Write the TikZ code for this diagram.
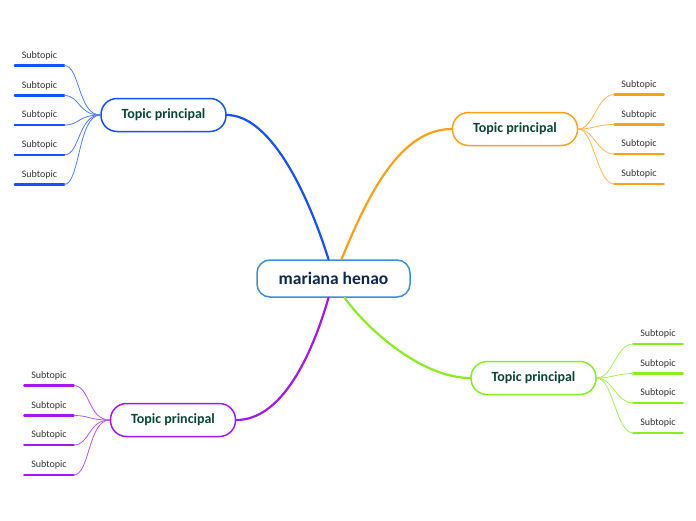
\documentclass[tikz,border=0pt]{standalone}
\usepackage{fontspec}
\setsansfont{Carlito}
\usetikzlibrary{calc}
\definecolor{azul}{HTML}{1650FF}
\definecolor{naranja}{HTML}{FFA014}
\definecolor{verde}{HTML}{88EE1C}
\definecolor{violeta}{HTML}{A118F2}
\definecolor{celeste}{HTML}{3C8ED6}
\definecolor{marino}{HTML}{10284E}
\definecolor{pino}{HTML}{0B4535}
\definecolor{gris}{HTML}{333333}

\tikzset{
  central/.style={draw=celeste, line width=1.5pt, rounded corners=13pt, fill=white,
    minimum width=153pt, minimum height=37pt, text=marino, font=\sffamily\bfseries\fontsize{17.5}{20}\selectfont},
  tema/.style={draw=#1, line width=1.5pt, rounded corners=16pt, fill=white,
    minimum width=125pt, minimum height=33pt, text=pino, font=\sffamily\bfseries\fontsize{14}{16}\selectfont},
  subtema/.style={anchor=south, minimum width=49pt, inner xsep=0pt, inner ysep=4.5pt,
    text height=6.5pt, text depth=2.5pt, text=gris, font=\sffamily\fontsize{10}{12}\selectfont},
  rama/.style={#1, line width=2.2pt},
  ramita/.style={#1!75, line width=0.8pt},
  raya/.style={#1, line width=2.5pt}
}

\begin{document}
\begin{tikzpicture}[x=1pt, y=-1pt, line cap=round, line join=round, font=\sffamily]
  \fill[white] (0,0) rectangle (696,520);

  % nodo central y temas
  \node[central] (c) at (333.5,278.5) {mariana henao};
  \node[tema=azul] (t1) at (163.5,115) {Topic principal};
  \node[tema=naranja] (t2) at (515,129) {Topic principal};
  \node[tema=verde] (t3) at (533.5,378) {Topic principal};
  \node[tema=violeta] (t4) at (173,420) {Topic principal};

  % ramas principales
  \draw[rama=azul] ([xshift=-5pt]c.north) .. controls (305,185) and (268,115) .. (t1.east);
  \draw[rama=naranja] ([xshift=8pt]c.north) .. controls (368,195) and (400,129) .. (t2.west);
  \draw[rama=verde] ([xshift=11pt]c.south) .. controls (372,335) and (425,378) .. (t3.west);
  \draw[rama=violeta] ([xshift=-5pt]c.south) .. controls (312,355) and (282,420) .. (t4.east);

  % subtemas azules
  \node[subtema] (a1) at (39.5,65.5) {Subtopic};
  \node[subtema] (a2) at (39.5,95.5) {Subtopic};
  \node[subtema] (a3) at (39.5,125) {Subtopic};
  \node[subtema] (a4) at (39.5,155) {Subtopic};
  \node[subtema] (a5) at (39.5,184.5) {Subtopic};
  \draw[raya=azul] (a1.south west) -- (a1.south east);
  \draw[raya=azul] (a2.south west) -- (a2.south east);
  \draw[raya=azul] (a3.south west) -- (a3.south east);
  \draw[raya=azul] (a4.south west) -- (a4.south east);
  \draw[raya=azul] (a5.south west) -- (a5.south east);
  \draw[ramita=azul] (a1.south east) .. controls (80,65.5) and (78,115) .. (t1.west);
  \draw[ramita=azul] (a2.south east) .. controls (80,95.5) and (78,115) .. (t1.west);
  \draw[ramita=azul] (a3.south east) .. controls (80,125) and (78,115) .. (t1.west);
  \draw[ramita=azul] (a4.south east) .. controls (80,155) and (78,115) .. (t1.west);
  \draw[ramita=azul] (a5.south east) .. controls (80,184.5) and (78,115) .. (t1.west);

  % subtemas naranjas
  \node[subtema] (b1) at (639,94.5) {Subtopic};
  \node[subtema] (b2) at (639,124.5) {Subtopic};
  \node[subtema] (b3) at (639,154) {Subtopic};
  \node[subtema] (b4) at (639,184) {Subtopic};
  \draw[raya=naranja] (b1.south west) -- (b1.south east);
  \draw[raya=naranja] (b2.south west) -- (b2.south east);
  \draw[raya=naranja] (b3.south west) -- (b3.south east);
  \draw[raya=naranja] (b4.south west) -- (b4.south east);
  \draw[ramita=naranja] (t2.east) .. controls (594,129) and (597,94.5) .. (b1.south west);
  \draw[ramita=naranja] (t2.east) .. controls (594,129) and (597,124.5) .. (b2.south west);
  \draw[ramita=naranja] (t2.east) .. controls (594,129) and (597,154) .. (b3.south west);
  \draw[ramita=naranja] (t2.east) .. controls (594,129) and (597,184) .. (b4.south west);

  % subtemas verdes
  \node[subtema] (v1) at (658,344) {Subtopic};
  \node[subtema] (v2) at (658,373.5) {Subtopic};
  \node[subtema] (v3) at (658,403) {Subtopic};
  \node[subtema] (v4) at (658,433) {Subtopic};
  \draw[raya=verde] (v1.south west) -- (v1.south east);
  \draw[raya=verde] (v2.south west) -- (v2.south east);
  \draw[raya=verde] (v3.south west) -- (v3.south east);
  \draw[raya=verde] (v4.south west) -- (v4.south east);
  \draw[ramita=verde] (t3.east) .. controls (613,378) and (616,344) .. (v1.south west);
  \draw[ramita=verde] (t3.east) .. controls (613,378) and (616,373.5) .. (v2.south west);
  \draw[ramita=verde] (t3.east) .. controls (613,378) and (616,403) .. (v3.south west);
  \draw[ramita=verde] (t3.east) .. controls (613,378) and (616,433) .. (v4.south west);

  % subtemas violetas
  \node[subtema] (p1) at (49,385.5) {Subtopic};
  \node[subtema] (p2) at (49,415.5) {Subtopic};
  \node[subtema] (p3) at (49,445) {Subtopic};
  \node[subtema] (p4) at (49,475) {Subtopic};
  \draw[raya=violeta] (p1.south west) -- (p1.south east);
  \draw[raya=violeta] (p2.south west) -- (p2.south east);
  \draw[raya=violeta] (p3.south west) -- (p3.south east);
  \draw[raya=violeta] (p4.south west) -- (p4.south east);
  \draw[ramita=violeta] (p1.south east) .. controls (90,385.5) and (88,420) .. (t4.west);
  \draw[ramita=violeta] (p2.south east) .. controls (90,415.5) and (88,420) .. (t4.west);
  \draw[ramita=violeta] (p3.south east) .. controls (90,445) and (88,420) .. (t4.west);
  \draw[ramita=violeta] (p4.south east) .. controls (90,475) and (88,420) .. (t4.west);
\end{tikzpicture}
\end{document}
